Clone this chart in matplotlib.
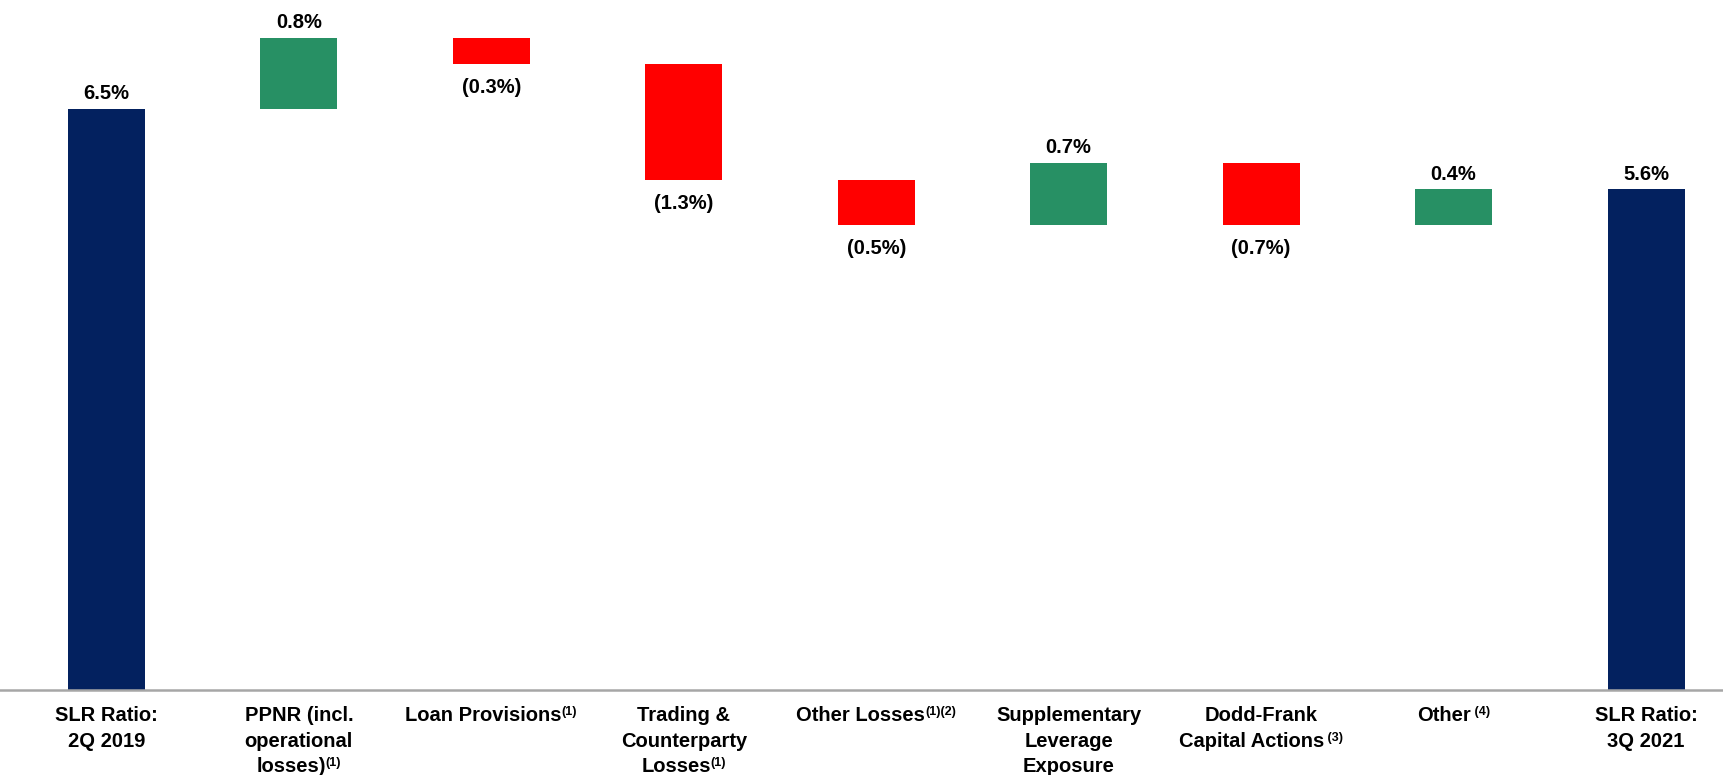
import matplotlib
matplotlib.use("Agg")
import matplotlib.pyplot as plt
from matplotlib.offsetbox import TextArea, HPacker, VPacker, AnnotationBbox

# Each category label: list of lines; each line is (main text, superscript)
categories = [
    [("SLR Ratio:", ""), ("2Q 2019", "")],
    [("PPNR (incl.", ""), ("operational", ""), ("losses)", "(1)")],
    [("Loan Provisions", "(1)")],
    [("Trading &", ""), ("Counterparty", ""), ("Losses", "(1)")],
    [("Other Losses", "(1)(2)")],
    [("Supplementary", ""), ("Leverage", ""), ("Exposure", "")],
    [("Dodd-Frank", ""), ("Capital Actions", " (3)")],
    [("Other", " (4)")],
    [("SLR Ratio:", ""), ("3Q 2021", "")],
]
values = [6.5, 0.8, -0.3, -1.3, -0.5, 0.7, -0.7, 0.4, 5.6]
kinds = ["total", "delta", "delta", "delta", "delta", "delta", "delta", "delta", "total"]
labels = ["6.5%", "0.8%", "(0.3%)", "(1.3%)", "(0.5%)", "0.7%", "(0.7%)", "0.4%", "5.6%"]

navy = "#03215F"
green = "#279064"
red = "#FF0000"

plt.rcParams["font.family"] = ["Liberation Sans", "DejaVu Sans"]

fig = plt.figure(figsize=(17.23, 7.75), dpi=100)
ax = fig.add_axes([0, 0.11, 1, 0.89])

running = 0.0
for i, (v, k, lab) in enumerate(zip(values, kinds, labels)):
    if k == "total":
        bottom, height, color = 0, v, navy
        running = v
    else:
        if v >= 0:
            bottom, height, color = running, v, green
        else:
            bottom, height, color = running + v, -v, red
        running += v
    ax.bar(i, height, bottom=bottom, width=0.40, color=color, zorder=2)
    if k == "total" or v >= 0:
        ax.annotate(lab, (i, bottom + height), xytext=(0, 4), textcoords="offset points",
                    ha="center", va="bottom", fontsize=14.5, fontweight="bold")
    else:
        ax.annotate(lab, (i, bottom), xytext=(0, -10), textcoords="offset points",
                    ha="center", va="top", fontsize=14.5, fontweight="bold")

main_props = dict(fontsize=14.5, fontweight="bold", color="black")
sup_props = dict(fontsize=9, fontweight="bold", color="black")
for i, lines in enumerate(categories):
    rows = []
    for main, sup in lines:
        parts = [TextArea(main, textprops=main_props)]
        if sup:
            parts.append(TextArea(sup, textprops=sup_props))
        rows.append(HPacker(children=parts, align="top", pad=0, sep=0))
    box = VPacker(children=rows, align="center", pad=0, sep=4.6)
    ab = AnnotationBbox(box, (i, 0), xybox=(0, -12), xycoords="data",
                        boxcoords="offset points", box_alignment=(0.5, 1),
                        frameon=False, annotation_clip=False)
    ax.add_artist(ab)

ax.set_xlim(-0.553, 8.40)
ax.set_ylim(0, 7.72)
ax.set_xticks([])
ax.set_yticks([])
for s in ["top", "right", "left"]:
    ax.spines[s].set_visible(False)
ax.spines["bottom"].set_color("#A6A6A6")
ax.spines["bottom"].set_linewidth(1.8)

fig.savefig("out.png", dpi=100)
